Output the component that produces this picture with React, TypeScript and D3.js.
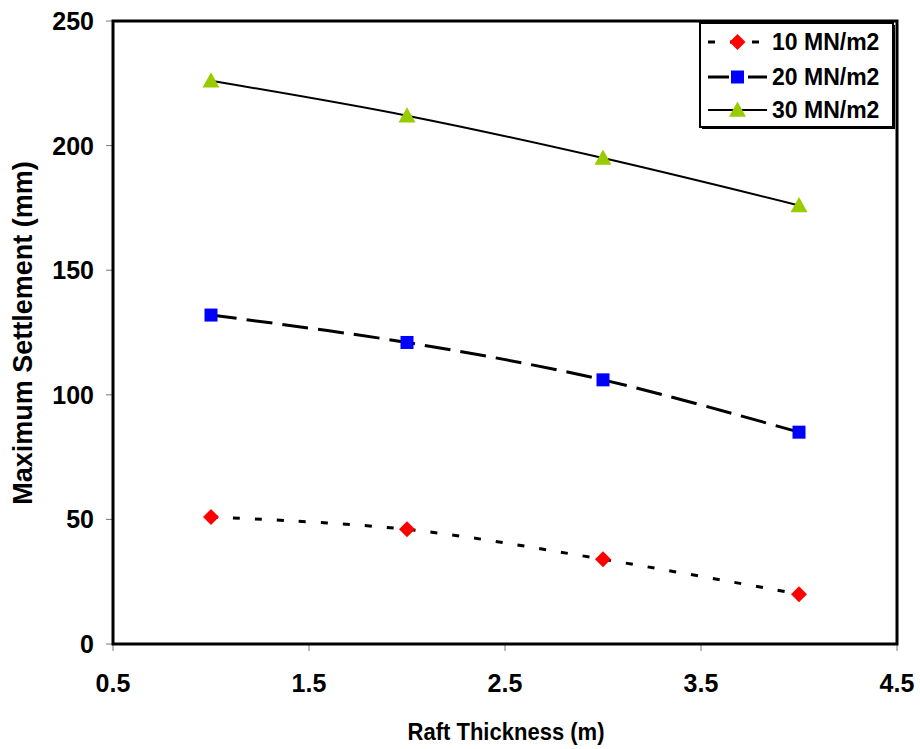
import React from "react";
import * as d3 from "d3";

const thickness = [1, 2, 3, 4];
const s10 = [51, 46, 34, 20];
const s20 = [132, 121, 106, 85];
const s30 = [226, 212, 195, 176];
const xTicks = [0.5, 1.5, 2.5, 3.5, 4.5];
const yTicks = [0, 50, 100, 150, 200, 250];
const seriesNames = ["10 MN/m2", "20 MN/m2", "30 MN/m2"];

const W = 920, H = 749;
const L = 113, R = 897, T = 21, B = 644;
const FONT = "Liberation Sans, Arial, sans-serif";

export default function App() {
  const x = d3.scaleLinear().domain([0.5, 4.5]).range([L, R]);
  const y = d3.scaleLinear().domain([0, 250]).range([B, T]);
  const line = d3
    .line<number>()
    .x((_, i) => x(thickness[i]))
    .y((d) => y(d))
    .curve(d3.curveCatmullRom.alpha(0.5));

  const series = [
    { name: seriesNames[0], data: s10, dash: "7,15", legDash: "7,15", width: 3, marker: "diamond", color: "#FF0000" },
    { name: seriesNames[1], data: s20, dash: "26,10", legDash: "21,19", width: 3, marker: "square", color: "#0000FF" },
    { name: seriesNames[2], data: s30, dash: "none", legDash: "none", width: 2, marker: "triangle", color: "#99CC00" },
  ];

  const marker = (type: string, cx: number, cy: number, color: string, key: any) => {
    if (type === "diamond") {
      const s = 8;
      return <path key={key} d={`M${cx},${cy - s}L${cx + s},${cy}L${cx},${cy + s}L${cx - s},${cy}Z`} fill={color} />;
    }
    if (type === "square") {
      const s = 6.5;
      return <rect key={key} x={cx - s} y={cy - s} width={2 * s} height={2 * s} fill={color} />;
    }
    const s = 8.5;
    return <path key={key} d={`M${cx},${cy - s}L${cx + s},${cy + s * 0.8}L${cx - s},${cy + s * 0.8}Z`} fill={color} />;
  };

  const legX = 700, legY = 23, legW = 193, legH = 104;
  const rowY = [42, 77, 110];

  return (
    <svg width={W} height={H} style={{ position: "absolute", left: 0, top: 0, background: "#fff" }}>
      <rect x={0} y={0} width={W} height={H} fill="#fff" />
      {/* ticks */}
      {yTicks.map((t) => (
        <line key={"yt" + t} x1={L - 7} x2={L} y1={y(t)} y2={y(t)} stroke="#777" strokeWidth={1} />
      ))}
      {xTicks.map((t) => (
        <line key={"xt" + t} x1={x(t)} x2={x(t)} y1={B} y2={B + 7} stroke="#777" strokeWidth={1} />
      ))}
      {/* frame */}
      <rect x={L} y={T} width={R - L} height={B - T} fill="none" stroke="#000" strokeWidth={3} />
      {/* tick labels */}
      {yTicks.map((t) => (
        <text key={"yl" + t} x={L - 19} y={y(t)} dy="0.36em" textAnchor="end" fontFamily={FONT} fontWeight="bold" fontSize={25}>
          {t}
        </text>
      ))}
      {xTicks.map((t) => (
        <text key={"xl" + t} x={x(t)} y={692} textAnchor="middle" fontFamily={FONT} fontWeight="bold" fontSize={25}>
          {t}
        </text>
      ))}
      {/* axis titles */}
      <text x={506} y={740} textAnchor="middle" fontFamily={FONT} fontWeight="bold" fontSize={24}
        textLength={197} lengthAdjust="spacingAndGlyphs">
        Raft Thickness (m)
      </text>
      <text transform={`translate(32,${333})rotate(-90)`} textAnchor="middle" fontFamily={FONT} fontWeight="bold" fontSize={27}>
        Maximum Settlement (mm)
      </text>
      {/* series */}
      {series.map((s) => (
        <g key={s.name}>
          <path d={line(s.data) || ""} fill="none" stroke="#000" strokeWidth={s.width} strokeDasharray={s.dash} />
          {s.data.map((v, i) => marker(s.marker, x(thickness[i]), y(v), s.color, i))}
        </g>
      ))}
      {/* legend */}
      <rect x={legX + 2} y={legY + 2} width={legW} height={legH} fill="#000" />
      <rect x={legX} y={legY} width={legW} height={legH} fill="#fff" stroke="#000" strokeWidth={2} />
      {series.map((s, i) => (
        <g key={"leg" + i}>
          <line x1={708} x2={767} y1={rowY[i]} y2={rowY[i]} stroke="#000" strokeWidth={s.width} strokeDasharray={s.legDash} />
          {marker(s.marker, 737.5, rowY[i], s.color, "m")}
          <text x={772} y={rowY[i]} dy="0.36em" fontFamily={FONT} fontWeight="bold" fontSize={23}>
            {s.name}
          </text>
        </g>
      ))}
    </svg>
  );
}
